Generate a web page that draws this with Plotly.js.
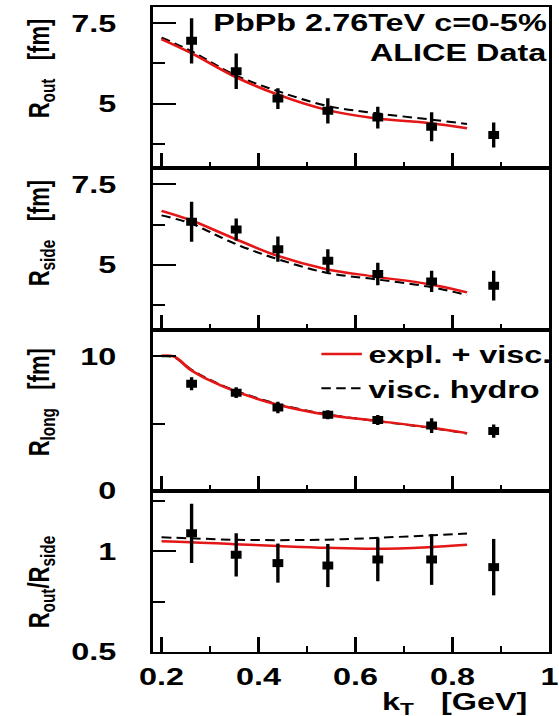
<!DOCTYPE html>
<html>
<head>
<meta charset="utf-8">
<script src="https://cdn.plot.ly/plotly-3.0.1.min.js"></script>
<style>
  html, body { margin: 0; padding: 0; background: #fff; overflow: hidden; }
  #chart { width: 414px; height: 716px; transform: scaleX(1.35); transform-origin: 0 0; }
</style>
</head>
<body>
<div id="chart"></div>
<script>
// ---- data ----
const kT = [0.262, 0.354, 0.44, 0.543, 0.646, 0.757, 0.885];

const rOut     = [6.95, 6.01, 5.16, 4.78, 4.57, 4.29, 4.03];
const rOutErr  = [0.70, 0.55, 0.32, 0.39, 0.34, 0.45, 0.39];
const rSide    = [6.34, 6.10, 5.49, 5.13, 4.72, 4.49, 4.36];
const rSideErr = [0.62, 0.34, 0.39, 0.36, 0.35, 0.33, 0.46];
const rLong    = [7.96, 7.30, 6.20, 5.66, 5.27, 4.85, 4.44];
const rLongErr = [0.48, 0.40, 0.43, 0.33, 0.37, 0.55, 0.49];
const ratio    = [1.089, 0.982, 0.941, 0.929, 0.959, 0.959, 0.921];
const ratioErr = [0.147, 0.107, 0.097, 0.107, 0.108, 0.126, 0.140];

const modelKT = [0.2, 0.26, 0.35, 0.44, 0.54, 0.64, 0.75, 0.83];
const rOutExpl    = [7.00, 6.58, 5.85, 5.28, 4.81, 4.55, 4.40, 4.24];
const rOutHydro   = [7.05, 6.64, 5.90, 5.39, 4.94, 4.71, 4.52, 4.375];
const rSideExpl   = [6.68, 6.39, 5.82, 5.28, 4.87, 4.64, 4.41, 4.15];
const rSideHydro  = [6.54, 6.29, 5.67, 5.18, 4.76, 4.56, 4.33, 4.07];
const ratioExpl   = [1.049, 1.045, 1.035, 1.026, 1.017, 1.012, 1.020, 1.032];
const ratioHydro  = [1.069, 1.064, 1.057, 1.055, 1.057, 1.066, 1.078, 1.088];

const longModelKT = [0.2, 0.225, 0.26, 0.30, 0.35, 0.44, 0.54, 0.64, 0.75, 0.83];
const rLongExpl   = [10.05, 10.0, 9.0, 8.2, 7.43, 6.40, 5.66, 5.22, 4.73, 4.29];
const rLongHydro  = [10.0, 9.95, 9.05, 8.25, 7.48, 6.45, 5.70, 5.20, 4.70, 4.25];

const legendNames = ['expl. + visc.', 'visc. hydro'];
const yTitles = ['R<sub>out</sub>&nbsp;&nbsp;&nbsp;[fm]', 'R<sub>side</sub>&nbsp;&nbsp;&nbsp;[fm]',
                 'R<sub>long</sub>&nbsp;&nbsp;&nbsp;[fm]', 'R<sub>out</sub>/R<sub>side</sub>'];
const xTitle = 'k<sub>T</sub>&nbsp;&nbsp;&nbsp;[GeV]';
const infoLines = ['PbPb 2.76TeV c=0-5%', 'ALICE Data'];

// ---- styling ----
const FONT = 'Liberation Sans, Arial, sans-serif';
const RED = 'rgb(228,22,22)';
const panels = [
  {data: rOut,  err: rOutErr,  mx: modelKT,     expl: rOutExpl,  hydro: rOutHydro},
  {data: rSide, err: rSideErr, mx: modelKT,     expl: rSideExpl, hydro: rSideHydro},
  {data: rLong, err: rLongErr, mx: longModelKT, expl: rLongExpl, hydro: rLongHydro},
  {data: ratio, err: ratioErr, mx: modelKT,     expl: ratioExpl, hydro: ratioHydro}
];

const traces = [];
panels.forEach((p, i) => {
  const xa = 'x' + (i + 1), ya = 'y' + (i + 1);
  traces.push({
    x: p.mx, y: p.hydro, xaxis: xa, yaxis: ya, type: 'scatter', mode: 'lines',
    line: {color: 'black', width: 2, dash: '7px,4px', shape: 'spline', smoothing: 1},
    name: legendNames[1], showlegend: i === 2, legendrank: 2
  });
  traces.push({
    x: p.mx, y: p.expl, xaxis: xa, yaxis: ya, type: 'scatter', mode: 'lines',
    line: {color: RED, width: 2.5, shape: 'spline', smoothing: 1},
    name: legendNames[0], showlegend: i === 2, legendrank: 1
  });
  traces.push({
    x: kT, y: p.data, xaxis: xa, yaxis: ya, type: 'scatter', mode: 'markers',
    marker: {symbol: 'square', size: 8, color: 'black'},
    error_y: {type: 'data', array: p.err, visible: true, color: 'black', thickness: 2.5, width: 0},
    showlegend: false
  });
});

const W = 414, H = 716;
const M = {l: 113, r: 7, t: 7, b: 64, autoexpand: false};
const pw = W - M.l - M.r, ph = H - M.t - M.b;
const S = 1.35;
const px2paperX = realX => (realX / S - M.l) / pw;
const px2paperY = realY => (H - M.b - realY) / ph;

const yRanges = [[3, 8], [3, 8], [0, 12], [0.5, 1.3]];
const yDticks = [2.5, 2.5, 10, 0.5];
const yMinor  = [1.25, 1.25, 5, 0.25];

const layout = {
  width: W, height: H, margin: M,
  paper_bgcolor: 'white', plot_bgcolor: 'white',
  font: {family: FONT, size: 24, color: 'black', weight: 'bold'},
  showlegend: true,
  legend: {
    x: 1.024, xanchor: 'right', y: px2paperY(332), yanchor: 'top',
    bgcolor: 'rgba(0,0,0,0)', borderwidth: 0,
    font: {family: FONT, size: 24, color: 'black', weight: 'bold'},
    traceorder: 'normal', tracegroupgap: 0, itemwidth: 30
  },
  annotations: [],
  shapes: []
};

for (let i = 0; i < 4; i++) {
  const k = i + 1;
  const dom = [(3 - i) / 4, (4 - i) / 4];
  layout['xaxis' + k] = {
    domain: [0, 1], anchor: 'y' + k, range: [0.1815, 1.0],
    showgrid: false, zeroline: false,
    showline: true, mirror: true, linecolor: 'black', linewidth: 2,
    ticks: 'inside', ticklen: 15, tickwidth: 2, tickcolor: 'black',
    tick0: 0, dtick: 0.2,
    minor: {ticks: 'inside', ticklen: 6, tickwidth: 2, tickcolor: 'black', dtick: 0.1},
    showticklabels: i === 3,
    tickfont: {family: FONT, size: 24, color: 'black', weight: 'bold'},
    ticklabelstandoff: 2
  };
  layout['yaxis' + k] = {
    domain: dom, anchor: 'x' + k, range: yRanges[i],
    showgrid: false, zeroline: false,
    showline: true, mirror: true, linecolor: 'black', linewidth: 2,
    ticks: 'inside', ticklen: 17, tickwidth: 2, tickcolor: 'black',
    tick0: 0, dtick: yDticks[i],
    minor: {ticks: 'inside', ticklen: 9, tickwidth: 2, tickcolor: 'black', dtick: yMinor[i]},
    tickfont: {family: FONT, size: 24, color: 'black', weight: 'bold'},
    ticklabelstandoff: 20
  };
}

// y-axis titles (rotated) placed per panel
const titleCentersY = [68, 233, 402, 582];
yTitles.forEach((t, i) => {
  layout.annotations.push({
    text: t, xref: 'paper', yref: 'paper',
    x: px2paperX(41), y: px2paperY(titleCentersY[i]),
    xanchor: 'center', yanchor: 'middle', textangle: -90, showarrow: false,
    font: {family: FONT, size: 22, color: 'black', weight: 'bold'}
  });
});
// x-axis title
layout.annotations.push({
  text: xTitle, xref: 'paper', yref: 'paper',
  x: px2paperX(530), y: px2paperY(703.5), xanchor: 'right', yanchor: 'middle',
  showarrow: false, font: {family: FONT, size: 24, color: 'black', weight: 'bold'}
});
// info text top right
[22, 52].forEach((cy, j) => {
  layout.annotations.push({
    text: infoLines[j], xref: 'paper', yref: 'paper',
    x: px2paperX(550), y: px2paperY(cy), xanchor: 'right', yanchor: 'middle',
    showarrow: false, font: {family: FONT, size: 24, color: 'black', weight: 'bold'}
  });
});

Plotly.newPlot('chart', traces, layout, {staticPlot: true, displayModeBar: false});
</script>
</body>
</html>
